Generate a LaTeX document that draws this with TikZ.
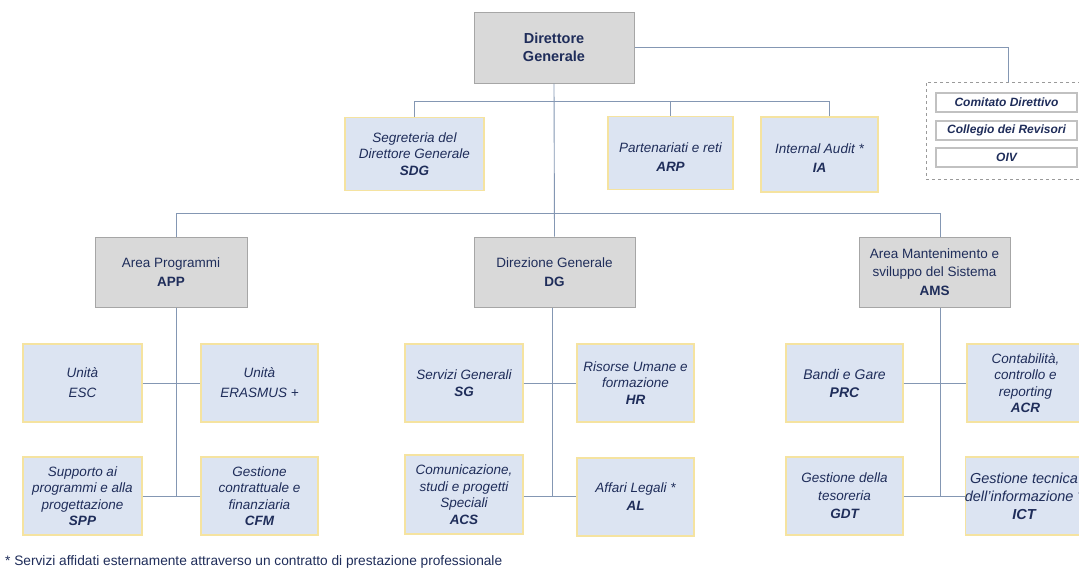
\documentclass[tikz,border=0pt]{standalone}
\usepackage{fontspec}
\setmainfont{Liberation Sans}
\definecolor{txt}{HTML}{1F2D5A}
\definecolor{bluefill}{HTML}{DCE4F2}
\definecolor{goldline}{HTML}{F5E3A0}
\definecolor{grayfill}{HTML}{D9D9D9}
\definecolor{grayline}{HTML}{A6A6A6}
\definecolor{conn}{HTML}{8497B3}
\definecolor{dashgray}{HTML}{9A9A9A}
\begin{document}
\begin{tikzpicture}[x=1pt,y=-1pt,
  every node/.style={text=txt, align=center, inner sep=0pt},
  unitbox/.style={rectangle, draw=goldline, line width=1.3pt, fill=bluefill,
    font=\fontsize{13.5}{16.5}\selectfont\itshape, minimum width=117, minimum height=78},
  topunit/.style={unitbox, minimum height=73},
  areabox/.style={rectangle, draw=grayline, line width=1pt, fill=grayfill,
    font=\fontsize{13.5}{19}\selectfont, minimum width=152, minimum height=70},
  govbox/.style={rectangle, draw=grayline!70, line width=1.2pt, fill=white,
    font=\fontsize{12}{13}\selectfont\bfseries\itshape, minimum width=141, minimum height=19},
  connline/.style={draw=conn, line width=0.9pt},
]
\useasboundingbox (0,0) rectangle (1079,574);
\clip (0,0) rectangle (1079,574);
\fill[white] (0,0) rectangle (1079,574);

% top
\node[areabox, minimum width=160, minimum height=71, font=\fontsize{14.5}{18}\selectfont\bfseries] (dir) at (554,47.5) {Direttore\\Generale};

% governance group
\node[rectangle, draw=dashgray, dashed, line width=0.9pt, minimum width=164, minimum height=97] (grp) at (1008,130.5) {};
\node[govbox] (cd) at (1006.5,102.5) {Comitato Direttivo};
\node[govbox] (cr) at (1006.5,130.5) {Collegio dei Revisori};
\node[govbox] (oiv) at (1006.5,157.5) {OIV};

% staff units
\node[topunit, minimum width=139] (sdg) at (414.5,154) {Segreteria del\\Direttore Generale\\\textbf{SDG}};
\node[topunit, minimum width=125, font=\fontsize{13.5}{19}\selectfont\itshape] (arp) at (670.5,153) {\rule{0pt}{17pt}Partenariati e reti\\\textbf{ARP}};
\node[topunit, minimum width=117, minimum height=75, font=\fontsize{13.5}{19}\selectfont\itshape] (ia) at (819.5,154.5) {\rule{0pt}{17pt}Internal Audit *\\\textbf{IA}};

% areas
\node[areabox] (app) at (171,272) {Area Programmi\\\textbf{APP}};
\node[areabox, minimum width=161] (dga) at (554.5,272) {Direzione Generale\\\textbf{DG}};
\node[areabox, minimum width=151, font=\fontsize{13.5}{18.5}\selectfont] (ams) at (934.5,272) {Area Mantenimento e\\sviluppo del Sistema\\\textbf{AMS}};

% APP units
\node[unitbox, minimum width=119, font=\fontsize{13.5}{20}\selectfont\itshape] (esc) at (82.5,383) {Unità\\ESC};
\node[unitbox, font=\fontsize{13.5}{20}\selectfont\itshape] (era) at (259.5,383) {Unità\\ERASMUS +};
\node[unitbox, minimum width=119] (spp) at (82.5,496) {Supporto ai\\programmi e alla\\progettazione\\\textbf{SPP}};
\node[unitbox] (cfm) at (259.5,496) {Gestione\\contrattuale e\\finanziaria\\\textbf{CFM}};

% DG units
\node[unitbox, minimum width=118] (sg) at (464,383) {Servizi Generali\\\textbf{SG}};
\node[unitbox] (hr) at (635.5,383) {Risorse Umane e\\formazione\\\textbf{HR}};
\node[unitbox, minimum width=118, minimum height=79] (acs) at (464,494.5) {Comunicazione,\\studi e progetti\\Speciali\\\textbf{ACS}};
\node[unitbox, font=\fontsize{13.5}{18}\selectfont\itshape] (al) at (635.5,497) {Affari Legali *\\\textbf{AL}};

% AMS units
\node[unitbox, font=\fontsize{14}{18}\selectfont\itshape] (prc) at (844.5,383) {Bandi e Gare\\\textbf{PRC}};
\node[unitbox] (acr) at (1025.5,383) {Contabilità,\\controllo e\\reporting\\\textbf{ACR}};
\node[unitbox, font=\fontsize{13.5}{18}\selectfont\itshape] (gdt) at (844.5,496) {Gestione della\\tesoreria\\\textbf{GDT}};
\node[unitbox, font=\fontsize{14.5}{18}\selectfont\itshape] (ict) at (1024,496) {Gestione tecnica\\\makebox[0pt]{dell'informazione *}\\\textbf{ICT}};

% connector coordinates
\coordinate (busa) at (554,101);
\coordinate (busb) at (554,213);
\coordinate (append) at (176,496);
\coordinate (dgend) at (552,496);
\coordinate (amsend) at (940,496);

% connectors
\draw[connline] (dir.east) -| (grp.north);
\draw[connline] (dir.south) -- (dga.north);
\draw[connline] (sdg.north) |- (busa);
\draw[connline] (arp.north) -- (arp.north |- busa);
\draw[connline] ([xshift=9.5]ia.north) |- (busa);
\draw[connline] ([xshift=5]app.north) |- (busb);
\draw[connline] ([xshift=5.5]ams.north) |- (busb);

\draw[connline] ([xshift=5]app.south) -- (append);
\draw[connline] (esc.east) -- (era.west);
\draw[connline] (spp.east) -- (cfm.west);

\draw[connline] ([xshift=-2.5]dga.south) -- (dgend);
\draw[connline] (sg.east) -- (hr.west);
\draw[connline] (acs.east |- dgend) -- (al.west |- dgend);

\draw[connline] ([xshift=5.5]ams.south) -- (amsend);
\draw[connline] (prc.east) -- (acr.west);
\draw[connline] (gdt.east) -- (ict.west);

% footnote
\node[anchor=west, font=\fontsize{13.7}{15}\selectfont] (note) at (5,562) {* Servizi affidati esternamente attraverso un contratto di prestazione professionale};
\end{tikzpicture}
\end{document}
